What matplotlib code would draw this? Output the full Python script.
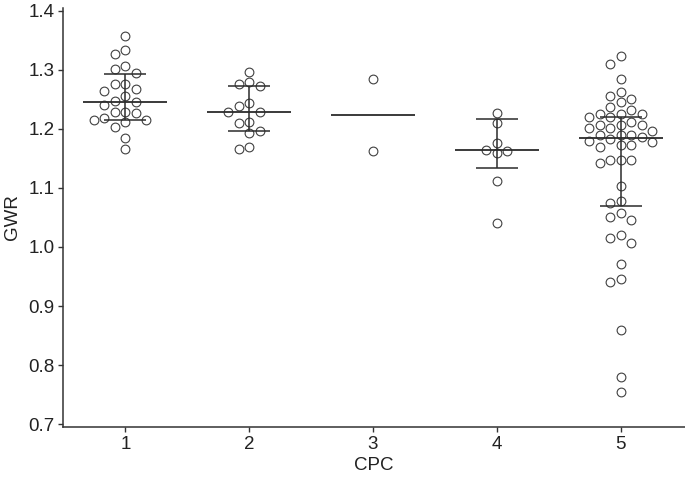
import numpy as np
import matplotlib
matplotlib.use("Agg")
import matplotlib.pyplot as plt

plt.rcParams['font.family'] = ['Liberation Sans', 'DejaVu Sans']

# GWR values per CPC group
cpc = [1, 2, 3, 4, 5]
gwr_1 = [1.358, 1.334, 1.327, 1.307, 1.302, 1.294, 1.277, 1.276, 1.268, 1.264,
         1.255, 1.246, 1.247, 1.240, 1.229, 1.227, 1.229, 1.215, 1.218, 1.212,
         1.216, 1.204, 1.185, 1.166]
gwr_2 = [1.297, 1.280, 1.272, 1.276, 1.244, 1.229, 1.229, 1.239, 1.210, 1.211,
         1.197, 1.193, 1.166, 1.170]
gwr_3 = [1.284, 1.163]
gwr_4 = [1.227, 1.210, 1.177, 1.164, 1.160, 1.162, 1.111, 1.040]
gwr_5 = [1.324, 1.310, 1.285, 1.263, 1.255, 1.246, 1.250, 1.238, 1.232, 1.221,
         1.225, 1.225, 1.226, 1.221, 1.207, 1.206, 1.207, 1.212, 1.201, 1.201,
         1.197, 1.190, 1.189, 1.187, 1.189, 1.180, 1.178, 1.183, 1.173, 1.173,
         1.169, 1.147, 1.147, 1.142, 1.147, 1.104, 1.078, 1.074, 1.057, 1.046,
         1.051, 1.016, 1.007, 1.020, 0.971, 0.946, 0.940, 0.860, 0.780, 0.754]
groups = [gwr_1, gwr_2, gwr_3, gwr_4, gwr_5]

# median and whisker ends (none drawn for group 3)
medians = [1.246, 1.229, 1.223, 1.164, 1.184]
upper = [1.293, 1.272, None, 1.217, 1.221]
lower = [1.215, 1.196, None, 1.134, 1.069]


def swarm_offsets(vals, step=0.085, min_dy=0.0155):
    # simple column swarm: put each point in the nearest free column
    order = np.argsort(vals)[::-1]
    cols = {}
    offs = np.zeros(len(vals))
    cands = [0, -1, 1, -2, 2, -3, 3, -4, 4, -5, 5]
    for i in order:
        y = vals[i]
        for c in cands:
            taken = cols.get(c, [])
            if all(abs(y - t) >= min_dy for t in taken):
                cols.setdefault(c, []).append(y)
                offs[i] = c * step
                break
    return offs


fig = plt.figure(figsize=(6.85, 4.8), dpi=100)
ax = fig.add_axes([0.0927, 0.1104, 0.9073, 0.873])

dark = '#2b2b2b'
for x, vals, med, hi, lo in zip(cpc, groups, medians, upper, lower):
    vals = np.array(vals)
    xs = x + swarm_offsets(vals)
    ax.plot(xs, vals, 'o', mfc='white', mec='#404040', mew=0.8, ms=6.3,
            ls='none', zorder=2)
    ax.hlines(med, x - 0.34, x + 0.34, color=dark, lw=1.3, zorder=3)
    if hi is not None:
        ax.vlines(x, lo, hi, color=dark, lw=1.1, zorder=3)
        ax.hlines([lo, hi], x - 0.17, x + 0.17, color=dark, lw=1.1, zorder=3)

ax.set_xlim(0.5, 5.52)
ax.set_ylim(0.695, 1.405)
ax.set_xticks(cpc)
ax.set_yticks(np.arange(0.7, 1.41, 0.1))
ax.set_yticklabels(['0.7', '0.8', '0.9', '1.0', '1.1', '1.2', '1.3', '1.4'])
ax.set_xlabel('CPC', fontsize=13.5, color='#222222', labelpad=3)
ax.set_ylabel('GWR', fontsize=13.5, color='#222222', labelpad=5)

for s in ['top', 'right']:
    ax.spines[s].set_visible(False)
for s in ['left', 'bottom']:
    ax.spines[s].set_color('#333333')
    ax.spines[s].set_linewidth(1.1)
ax.tick_params(length=3.5, width=1.0, color='#333333', labelsize=13.5,
               labelcolor='#222222', pad=3)

fig.savefig('out.png', dpi=100)
